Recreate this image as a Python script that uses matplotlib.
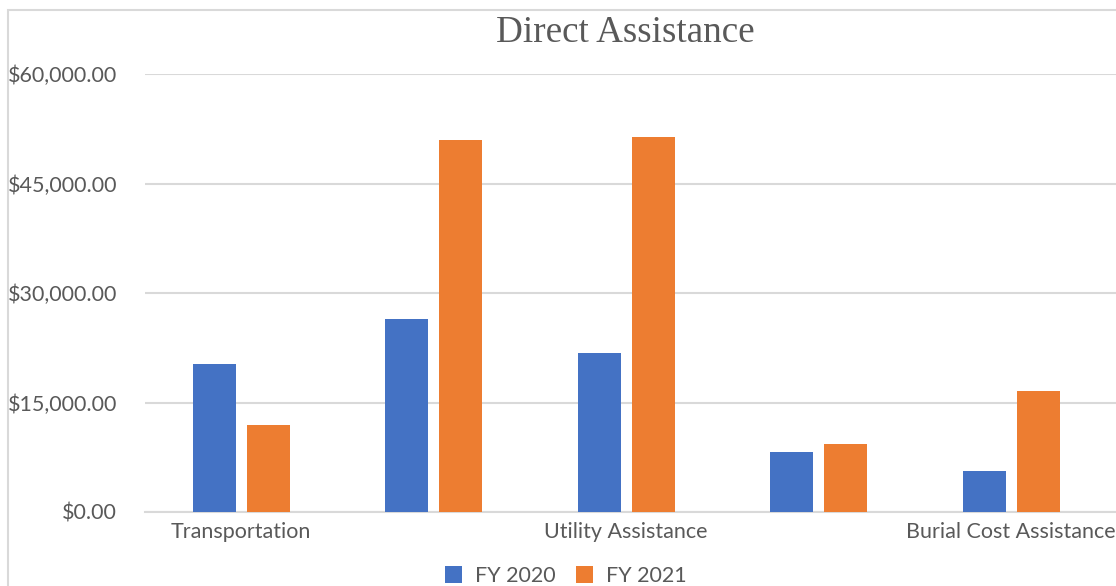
import numpy as np
import matplotlib
matplotlib.use("Agg")
import matplotlib.pyplot as plt
from matplotlib.patches import Rectangle
from matplotlib.ticker import FuncFormatter

# values
tick_labels = ["Transportation", "", "Utility Assistance", "", "Burial Cost Assistance"]
fy2020 = [20300, 26450, 21800, 8200, 5600]
fy2021 = [11900, 50950, 51350, 9300, 16550]
series_names = ["FY 2020", "FY 2021"]

BLUE   = "#4472C4"
ORANGE = "#ED7D31"
GRID   = "#D9D9D9"
TEXT   = "#595959"

W, H = 1116, 586
fig = plt.figure(figsize=(W / 100, H / 100), dpi=100)

# chart-area border (cropped at right and bottom in the original)
fig.patches.append(Rectangle((8 / W, -0.1), 1.2, (H - 10) / H + 0.1,
                             transform=fig.transFigure, fill=False,
                             edgecolor=GRID, linewidth=1.5))

ax = fig.add_axes([145 / W, 1 - 512 / H, (W - 145) / W, (512 - 74) / H])

x = np.arange(len(tick_labels))
bw = 0.223
off = 0.14
ax.bar(x - off, fy2020, bw, color=BLUE, label=series_names[0], zorder=3)
ax.bar(x + off, fy2021, bw, color=ORANGE, label=series_names[1], zorder=3)

ax.set_xlim(-0.5, 4.545)
ax.set_ylim(0, 60000)
ax.set_yticks(np.arange(0, 60001, 15000))
ax.yaxis.set_major_formatter(FuncFormatter(lambda v, p: f"${v:,.2f}"))
ax.set_xticks(x)
ax.set_xticklabels(tick_labels)

ax.grid(axis="y", color=GRID, linewidth=1.5, zorder=0)
for s in ["top", "right", "left"]:
    ax.spines[s].set_visible(False)
ax.spines["bottom"].set_color(GRID)
ax.spines["bottom"].set_linewidth(1.5)
ax.tick_params(axis="both", length=0, labelsize=15.5, labelcolor=TEXT,
               labelfontfamily="Lato")
ax.tick_params(axis="y", pad=20)
ax.tick_params(axis="x", pad=7)

fig.text(625 / W, 1 - 33 / H, "Direct Assistance", ha="center", va="center",
         fontsize=26.7, family="Liberation Serif", color=TEXT)

leg = fig.legend(loc="center", bbox_to_anchor=(566 / W, 1 - 576 / H), ncol=2,
                 frameon=False, handlelength=0.8, handleheight=0.8,
                 columnspacing=0.95, handletextpad=0.6,
                 prop={"family": "Lato", "size": 15.5})
for t in leg.get_texts():
    t.set_color(TEXT)

fig.savefig("out.png", dpi=100)
